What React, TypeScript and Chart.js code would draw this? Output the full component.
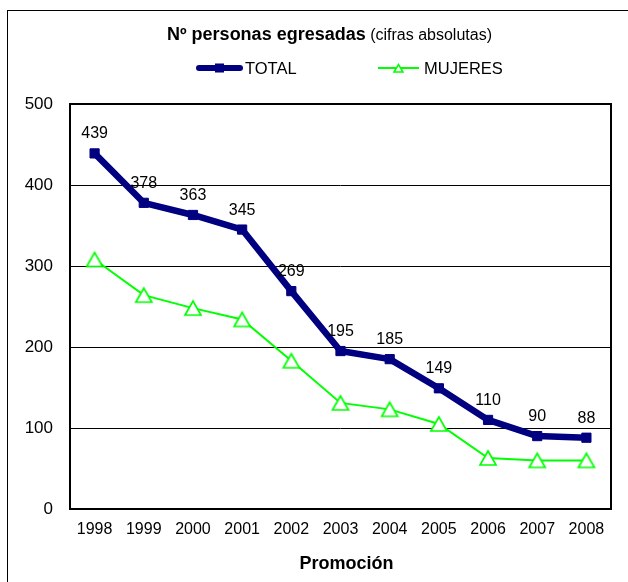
import React, { useEffect, useRef } from "react";
import { Chart, registerables } from "chart.js";

Chart.register(...registerables);

const years = ["1998", "1999", "2000", "2001", "2002", "2003", "2004", "2005", "2006", "2007", "2008"];
const totalValues = [439, 378, 363, 345, 269, 195, 185, 149, 110, 90, 88];
const mujeresValues = [308, 264, 248, 234, 183, 131, 123, 105, 63, 60, 60];
const seriesNames = ["TOTAL", "MUJERES"];
const titleBold = "Nº personas egresadas";
const titleNormal = "(cifras absolutas)";
const xAxisTitle = "Promoción";

const FONT = "'Liberation Sans', Arial, sans-serif";
const NAVY = "#000080";
const GREEN = "#00FF00";

function makeTriangle(w: number, h: number, lw: number, color: string) {
  const c = document.createElement("canvas");
  c.width = w + 4;
  c.height = h + 4;
  const g = c.getContext("2d")!;
  g.beginPath();
  g.moveTo(c.width / 2, 2);
  g.lineTo(2, 2 + h);
  g.lineTo(2 + w, 2 + h);
  g.closePath();
  g.fillStyle = "#ffffff";
  g.fill();
  g.strokeStyle = color;
  g.lineWidth = lw;
  g.stroke();
  return c;
}

export default function App() {
  const ref = useRef<HTMLCanvasElement>(null);

  useEffect(() => {
    if (!ref.current) return;
    const tri = makeTriangle(16, 14, 1.7, GREEN);

    const decor = {
      id: "decor",
      beforeDraw(chart: any) {
        const ctx = chart.ctx;
        ctx.save();
        ctx.fillStyle = "#ffffff";
        ctx.fillRect(0, 0, chart.width, chart.height);
        ctx.strokeStyle = "#000000";
        ctx.lineWidth = 1;
        ctx.strokeRect(7.5, 10.5, 800, 800);
        ctx.restore();
      },
      beforeDatasetsDraw(chart: any) {
        const { ctx, chartArea: a } = chart;
        ctx.save();
        ctx.strokeStyle = "#000000";
        ctx.lineWidth = 2;
        ctx.strokeRect(a.left, a.top, a.right - a.left, a.bottom - a.top);
        ctx.restore();
      },
      afterDatasetsDraw(chart: any) {
        const ctx = chart.ctx;
        const meta = chart.getDatasetMeta(0);
        ctx.save();
        ctx.font = `16px ${FONT}`;
        ctx.fillStyle = "#000000";
        ctx.textAlign = "center";
        ctx.textBaseline = "alphabetic";
        meta.data.forEach((pt: any, i: number) => {
          ctx.fillText(String(totalValues[i]), pt.x, pt.y - 15);
        });
        ctx.restore();
      },
      afterDraw(chart: any) {
        const ctx = chart.ctx;
        ctx.save();
        ctx.fillStyle = "#000000";
        ctx.textBaseline = "alphabetic";
        ctx.textAlign = "left";
        // title
        ctx.font = `bold 18px ${FONT}`;
        const wb = ctx.measureText(titleBold).width;
        ctx.font = `16px ${FONT}`;
        const ws = ctx.measureText(" ").width;
        const wn = ctx.measureText(titleNormal).width;
        const tx = 329.5 - (wb + ws + wn) / 2;
        ctx.font = `bold 18px ${FONT}`;
        ctx.fillText(titleBold, tx, 40);
        ctx.font = `16px ${FONT}`;
        ctx.fillText(titleNormal, tx + wb + ws, 40);

        // legend
        ctx.strokeStyle = NAVY;
        ctx.lineWidth = 6;
        ctx.lineCap = "round";
        ctx.beginPath();
        ctx.moveTo(199, 68);
        ctx.lineTo(240, 68);
        ctx.stroke();
        ctx.fillStyle = NAVY;
        ctx.fillRect(215, 63.5, 9, 9);
        ctx.strokeStyle = GREEN;
        ctx.lineWidth = 2;
        ctx.lineCap = "butt";
        ctx.beginPath();
        ctx.moveTo(378, 68);
        ctx.lineTo(419, 68);
        ctx.stroke();
        ctx.beginPath();
        ctx.moveTo(398.5, 64.5);
        ctx.lineTo(394, 72);
        ctx.lineTo(403, 72);
        ctx.closePath();
        ctx.fillStyle = "#ffffff";
        ctx.fill();
        ctx.lineWidth = 1.5;
        ctx.stroke();
        ctx.fillStyle = "#000000";
        ctx.font = `16.5px ${FONT}`;
        ctx.fillText(seriesNames[0], 245, 74);
        ctx.fillText(seriesNames[1], 424, 74);

        // x axis title
        ctx.font = `bold 18px ${FONT}`;
        ctx.textAlign = "center";
        ctx.fillText(xAxisTitle, 346.5, 569);
        ctx.restore();
      },
    };

    const chart = new Chart(ref.current, {
      type: "line",
      data: {
        labels: years,
        datasets: [
          {
            label: seriesNames[0],
            data: totalValues,
            borderColor: NAVY,
            backgroundColor: NAVY,
            borderWidth: 6.5,
            pointStyle: "rect",
            pointRadius: 6.5,
            pointBorderWidth: 1,
            pointBackgroundColor: NAVY,
            pointBorderColor: NAVY,
            pointHoverRadius: 6.5,
            tension: 0,
            borderJoinStyle: "round",
          },
          {
            label: seriesNames[1],
            data: mujeresValues,
            borderColor: GREEN,
            backgroundColor: "#ffffff",
            borderWidth: 2,
            pointStyle: tri as any,
            pointRadius: 9,
            pointHoverRadius: 9,
            tension: 0,
          },
        ],
      },
      options: {
        responsive: false,
        animation: false,
        events: [],
        layout: { padding: { top: 104, right: 17, left: 0, bottom: 0 } },
        plugins: {
          legend: { display: false },
          title: { display: false },
          tooltip: { enabled: false },
        },
        scales: {
          x: {
            offset: true,
            grid: { display: false, drawTicks: false },
            border: { display: false },
            ticks: {
              color: "#000000",
              font: { family: FONT, size: 16 },
              padding: 11,
              maxRotation: 0,
              autoSkip: false,
            },
            afterFit(s: any) {
              s.height = 73;
            },
          },
          y: {
            min: 0,
            max: 500,
            grid: { color: "#000000", lineWidth: 1, drawTicks: false },
            border: { display: false },
            ticks: {
              stepSize: 100,
              color: "#000000",
              font: { family: FONT, size: 17 },
              padding: 17,
            },
            afterFit(s: any) {
              s.width = 70;
            },
          },
        },
      },
      plugins: [decor],
    });

    return () => chart.destroy();
  }, []);

  return (
    <div style={{ position: "absolute", left: 0, top: 0, width: 628, height: 582 }}>
      <canvas ref={ref} width={628} height={582} style={{ display: "block" }} />
    </div>
  );
}
